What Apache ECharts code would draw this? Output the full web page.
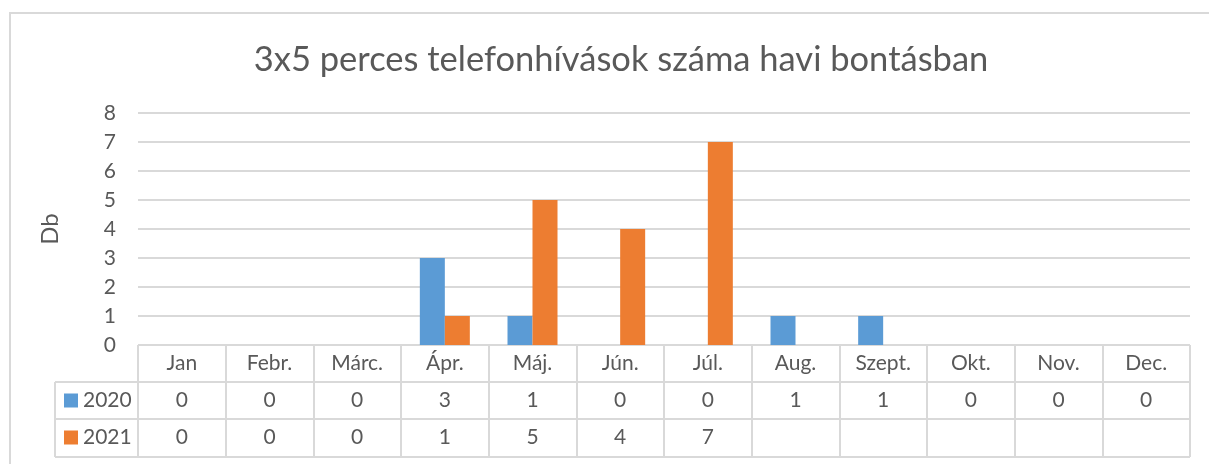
<!DOCTYPE html>
<html>
<head>
<meta charset="utf-8">
<script src="https://cdn.jsdelivr.net/npm/echarts@6/dist/echarts.min.js"></script>
<style>
  html, body { margin: 0; padding: 0; background: #fff; }
  #main { width: 1209px; height: 464px; }
</style>
</head>
<body>
<div id="main"></div>
<script>
// adatok
var months = ['Jan', 'Febr.', 'Márc.', 'Ápr.', 'Máj.', 'Jún.', 'Júl.', 'Aug.', 'Szept.', 'Okt.', 'Nov.', 'Dec.'];
var data2020 = [0, 0, 0, 3, 1, 0, 0, 1, 1, 0, 0, 0];
var data2021 = [0, 0, 0, 1, 5, 4, 7, null, null, null, null, null];
var yTicks = [0, 1, 2, 3, 4, 5, 6, 7, 8];

var FONT = 'Lato';
var GRAY = '#595959';
var LINE = '#D9D9D9';
var FS = 21;

// elrendezés
var gridLeft = 138, gridRight = 1190, gridTop = 113, gridBottom = 345;
var rowH = 37, tableLeft = 55;

var myChart = echarts.init(document.getElementById('main'));

function cell(v) {
  return (v === null || v === undefined) ? ' ' : String(v);
}

function legendRow(name, row) {
  return {
    orient: 'vertical',
    left: 64,
    top: gridBottom + rowH * row + rowH / 2 - FS / 2,
    padding: 0,
    itemWidth: 14,
    itemHeight: 14,
    selectedMode: false,
    icon: 'rect',
    textStyle: { fontFamily: FONT, fontSize: FS, color: GRAY, lineHeight: FS },
    data: [name]
  };
}

myChart.setOption({
  animation: false,
  textStyle: { fontFamily: FONT },
  title: {
    text: '3x5 perces telefonhívások száma havi bontásban',
    left: 616,
    textAlign: 'center',
    top: 37,
    textStyle: { fontFamily: FONT, fontSize: 34.5, fontWeight: 'normal', color: GRAY }
  },
  legend: [legendRow('2020', 1), legendRow('2021', 2)],
  grid: {
    left: gridLeft,
    right: 1209 - gridRight,
    top: gridTop,
    bottom: 464 - gridBottom,
    containLabel: false
  },
  xAxis: {
    type: 'category',
    data: months,
    boundaryGap: true,
    axisLine: { show: true, lineStyle: { color: LINE, width: 1 } },
    axisTick: { show: true, length: rowH * 3 + 1, interval: 0, lineStyle: { color: LINE, width: 2 } },
    axisLabel: {
      interval: 0,
      margin: 0,
      formatter: function (val, idx) {
        return '{h|' + val + '}\n{v|' + cell(data2020[idx]) + '}\n{v|' + cell(data2021[idx]) + '}';
      },
      rich: {
        h: { fontFamily: FONT, fontSize: FS, color: GRAY, lineHeight: rowH, align: 'center' },
        v: { fontFamily: FONT, fontSize: FS, color: GRAY, lineHeight: rowH, align: 'center' }
      }
    }
  },
  yAxis: {
    type: 'value',
    min: yTicks[0],
    max: yTicks[yTicks.length - 1],
    interval: 1,
    name: 'Db',
    nameLocation: 'middle',
    nameRotate: 90,
    nameGap: 76,
    nameTextStyle: { fontFamily: FONT, fontSize: 24, color: GRAY },
    axisLine: { show: false },
    axisTick: { show: false },
    axisLabel: { fontFamily: FONT, fontSize: FS, color: GRAY, margin: 22 },
    splitLine: { lineStyle: { color: LINE, width: 2 } }
  },
  series: [
    {
      name: '2020',
      type: 'bar',
      data: data2020,
      barWidth: 25,
      barGap: '0%',
      itemStyle: { color: '#5B9BD5' }
    },
    {
      name: '2021',
      type: 'bar',
      data: data2021,
      barWidth: 25,
      barGap: '0%',
      itemStyle: { color: '#ED7D31' }
    }
  ],
  graphic: [
    // külső keret
    { type: 'rect', shape: { x: 10, y: 13, width: 1240, height: 500 }, style: { fill: 'none', stroke: LINE, lineWidth: 2 }, silent: true },
    // adattábla vonalai
    { type: 'line', shape: { x1: tableLeft, y1: gridBottom + rowH, x2: gridRight, y2: gridBottom + rowH }, style: { stroke: LINE, lineWidth: 2 }, silent: true },
    { type: 'line', shape: { x1: tableLeft, y1: gridBottom + rowH * 2, x2: gridRight, y2: gridBottom + rowH * 2 }, style: { stroke: LINE, lineWidth: 2 }, silent: true },
    { type: 'line', shape: { x1: tableLeft, y1: gridBottom + rowH * 3 + 1, x2: gridRight, y2: gridBottom + rowH * 3 + 1 }, style: { stroke: LINE, lineWidth: 2 }, silent: true },
    { type: 'line', shape: { x1: tableLeft, y1: gridBottom + rowH, x2: tableLeft, y2: gridBottom + rowH * 3 + 1 }, style: { stroke: LINE, lineWidth: 2 }, silent: true }
  ]
});
</script>
</body>
</html>
